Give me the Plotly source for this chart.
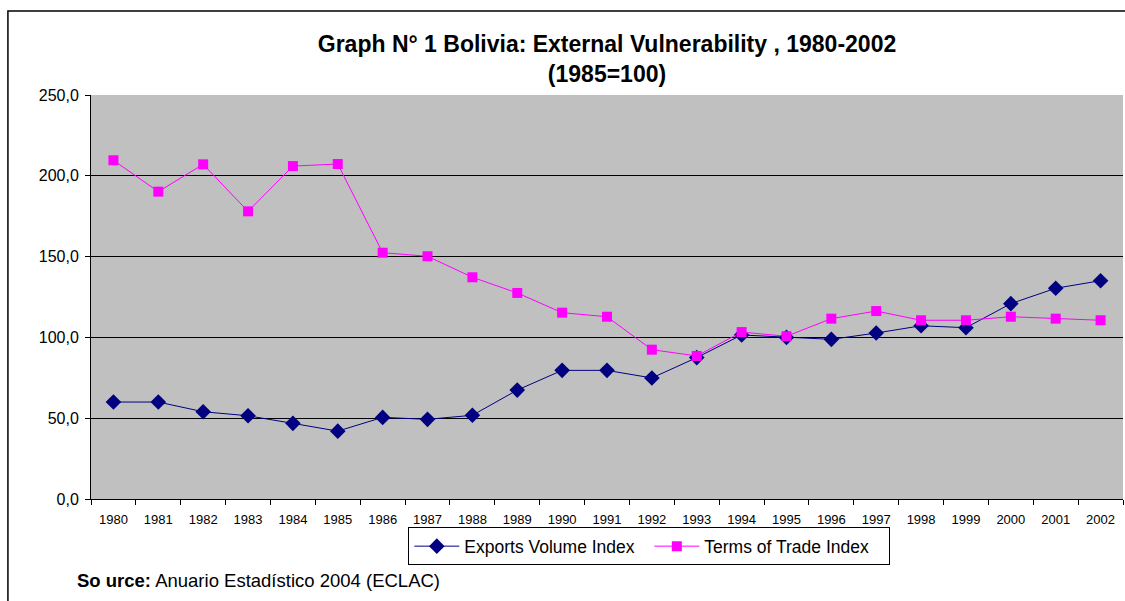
import plotly.graph_objects as go

# Bolivia external vulnerability, index 1985=100
YEARS = [str(y) for y in range(1980, 2003)]
EXPORTS_VOLUME = [60.0, 60.0, 54.0, 51.5, 46.8, 42.0, 50.5, 49.3, 51.8, 67.4,
                  79.6, 79.6, 74.9, 87.5, 101.5, 100.0, 98.8, 102.7, 107.2, 106.0,
                  120.9, 130.4, 135.1]
TERMS_OF_TRADE = [209.6, 190.2, 207.1, 178.0, 206.0, 207.3, 152.4, 150.2, 137.2, 127.5,
                  115.3, 112.8, 92.4, 88.5, 103.3, 100.7, 111.6, 116.3, 110.6, 110.6,
                  112.8, 111.6, 110.6]
Y_TICKS = [0, 50, 100, 150, 200, 250]

FONT = 'Liberation Sans, Arial, sans-serif'

fig = go.Figure()

fig.add_trace(go.Scatter(
    x=YEARS, y=EXPORTS_VOLUME,
    mode='lines+markers',
    name='Exports Volume Index',
    line=dict(color='#000080', width=1),
    marker=dict(symbol='diamond', size=12, color='#000080'),
))

fig.add_trace(go.Scatter(
    x=YEARS, y=TERMS_OF_TRADE,
    mode='lines+markers',
    name='Terms of Trade Index',
    line=dict(color='#FF00FF', width=1),
    marker=dict(symbol='square', size=10, color='#FF00FF'),
))

# outer chart frame (left and top edges visible)
fig.add_shape(type='rect', xref='paper', yref='paper',
              x0=-0.0805, x1=1.05, y0=-0.5, y1=1.208,
              line=dict(color='black', width=1.5), fillcolor='rgba(0,0,0,0)',
              layer='below')

fig.add_annotation(
    xref='paper', yref='paper', x=-0.0155, y=-0.2005,
    xanchor='left', yanchor='middle', showarrow=False,
    text='<b>So urce:</b> Anuario Estadístico 2004 (ECLAC)',
    font=dict(family=FONT, size=18.5, color='black'),
)

fig.update_layout(
    width=1125, height=601,
    margin=dict(l=91, r=2, t=95, b=102),
    paper_bgcolor='white',
    plot_bgcolor='#C0C0C0',
    separators=', ',
    font=dict(family=FONT, color='black'),
    title=dict(
        text='<b>Graph N° 1 Bolivia: External Vulnerability , 1980-2002</b><br><b>(1985=100)</b>',
        font=dict(family=FONT, size=23, color='black'),
        x=0.5, xanchor='center', xref='paper',
        y=0.913, yanchor='middle',
    ),
    legend=dict(
        orientation='h',
        x=0.541, xanchor='center',
        y=-0.07, yanchor='top',
        bordercolor='black', borderwidth=1,
        bgcolor='white',
        font=dict(family=FONT, size=17.5),
        entrywidth=180,
        itemwidth=45,
    ),
    showlegend=True,
)

fig.update_xaxes(
    type='category',
    range=[-0.5, len(YEARS) - 0.5],
    showgrid=False,
    showline=True, linecolor='black', linewidth=1,
    ticks='outside', tickson='boundaries', ticklen=5, tickcolor='black',
    tickfont=dict(family=FONT, size=13),
    ticklabelstandoff=8,
    automargin=False,
)

fig.update_yaxes(
    range=[0, 250],
    tickvals=Y_TICKS,
    tickformat='.1f',
    showgrid=True, gridcolor='black', gridwidth=1,
    showline=True, linecolor='black', linewidth=1,
    ticks='outside', ticklen=5, tickcolor='black',
    tickfont=dict(family=FONT, size=16),
    ticklabelstandoff=3,
    zeroline=False,
    automargin=False,
)

fig.write_html('out.html', config={'displayModeBar': False},
               post_script="document.body.style.margin='0';")
